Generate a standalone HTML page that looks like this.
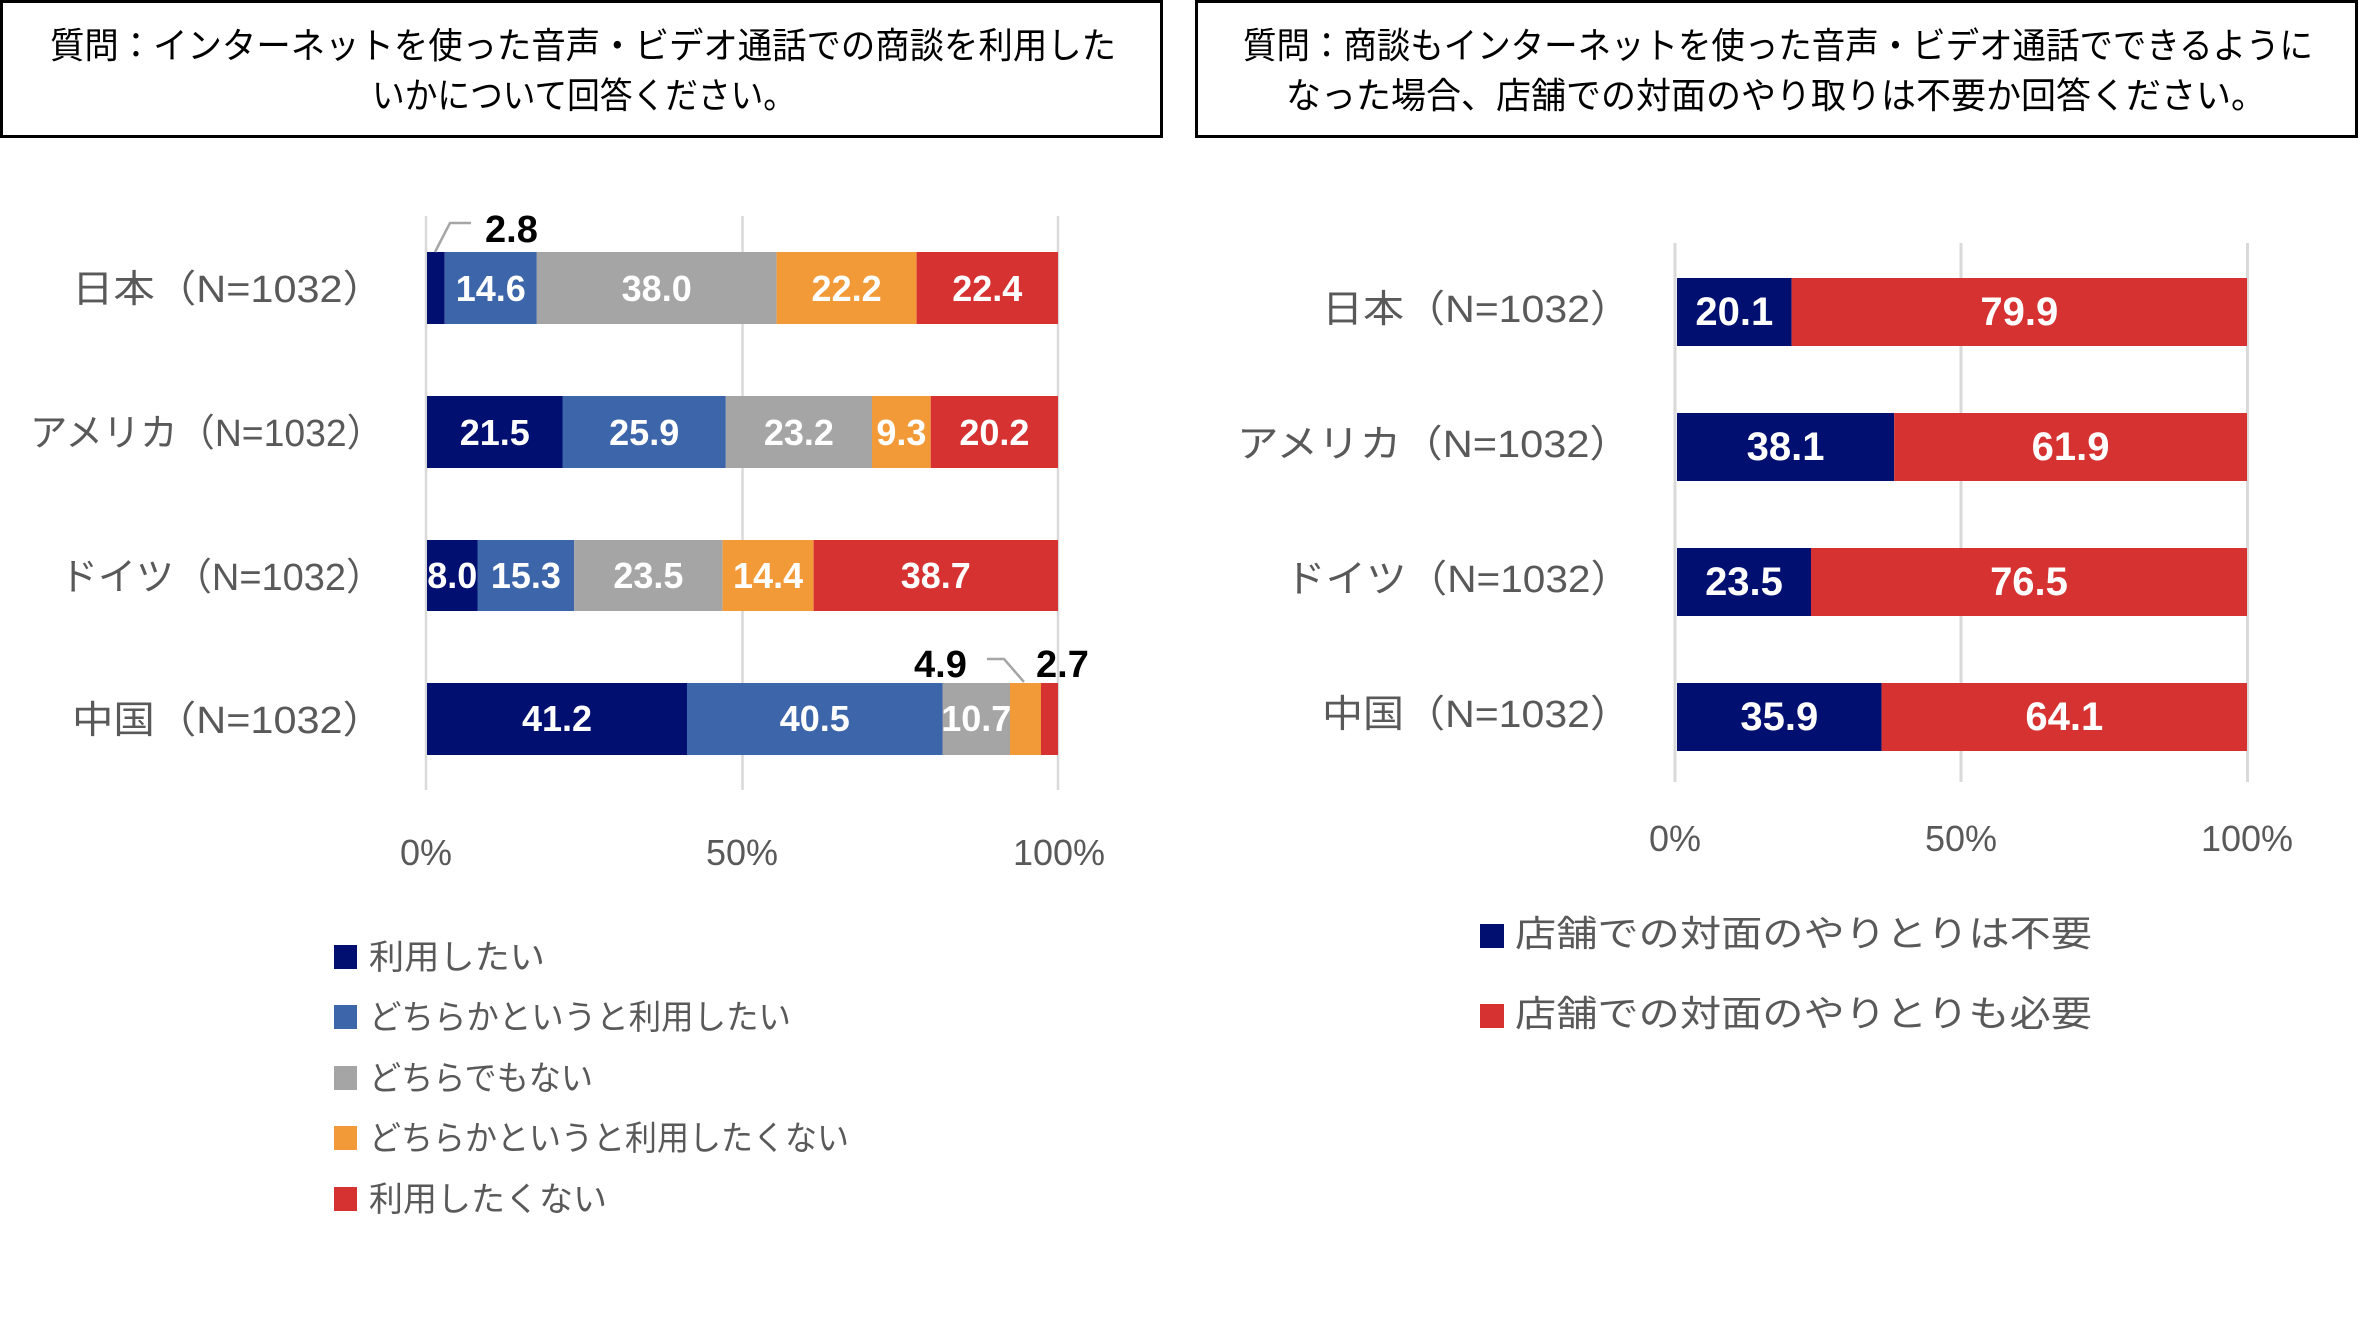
<!DOCTYPE html>
<html><head><meta charset="utf-8">
<style>
html,body{margin:0;padding:0;background:#fff;}
svg{display:block;}
text{font-family:"Liberation Sans","Noto Sans CJK JP",sans-serif;}
.t{font-size:36px;fill:#000;}
.cat{font-size:38px;fill:#595959;}
.catr{font-size:38px;fill:#595959;}
.tick{font-size:36px;fill:#595959;}
.dl{font-size:36px;font-weight:bold;fill:#fff;}
.dr{font-size:40px;font-weight:bold;fill:#fff;}
.ob{font-size:38px;font-weight:bold;fill:#000;}
.lg{font-size:34px;fill:#595959;}
.lgr{font-size:36px;fill:#595959;}
</style></head>
<body>
<svg width="2359" height="1335" viewBox="0 0 2359 1335" xmlns="http://www.w3.org/2000/svg">
<rect width="2359" height="1335" fill="#fff"/>
<!-- Title boxes -->
<rect x="1.5" y="1.5" width="1160" height="135" fill="none" stroke="#000" stroke-width="3"/>
<rect x="1196.5" y="1.5" width="1160" height="135" fill="none" stroke="#000" stroke-width="3"/>
<text class="t" x="50" y="58" textLength="1066" lengthAdjust="spacingAndGlyphs">質問：インターネットを使った音声・ビデオ通話での商談を利用した</text>
<text class="t" x="372" y="108" textLength="424" lengthAdjust="spacingAndGlyphs">いかについて回答ください。</text>
<text class="t" x="1243" y="58" textLength="1070" lengthAdjust="spacingAndGlyphs">質問：商談もインターネットを使った音声・ビデオ通話でできるように</text>
<text class="t" x="1286" y="108" textLength="980" lengthAdjust="spacingAndGlyphs">なった場合、店舗での対面のやり取りは不要か回答ください。</text>

<!-- LEFT CHART gridlines -->
<g stroke="#d9d9d9" stroke-width="2.5">
<line x1="426" y1="216" x2="426" y2="790"/>
<line x1="742.5" y1="216" x2="742.5" y2="790"/>
<line x1="1058" y1="216" x2="1058" y2="790"/>
</g>
<!-- Japan -->
<rect x="427" y="252" width="17.7" height="72" fill="#000F70"/>
<rect x="444.7" y="252" width="92.1" height="72" fill="#3D65AA"/>
<rect x="536.8" y="252" width="239.8" height="72" fill="#A5A5A5"/>
<rect x="776.6" y="252" width="140" height="72" fill="#F39A38"/>
<rect x="916.6" y="252" width="141.4" height="72" fill="#D63232"/>
<!-- America -->
<rect x="427" y="396" width="135.5" height="72" fill="#000F70"/>
<rect x="562.5" y="396" width="163.3" height="72" fill="#3D65AA"/>
<rect x="725.8" y="396" width="146.2" height="72" fill="#A5A5A5"/>
<rect x="872" y="396" width="58.7" height="72" fill="#F39A38"/>
<rect x="930.7" y="396" width="127.3" height="72" fill="#D63232"/>
<!-- Germany -->
<rect x="427" y="540" width="50.5" height="71" fill="#000F70"/>
<rect x="477.5" y="540" width="96.7" height="71" fill="#3D65AA"/>
<rect x="574.2" y="540" width="148.4" height="71" fill="#A5A5A5"/>
<rect x="722.6" y="540" width="91" height="71" fill="#F39A38"/>
<rect x="813.6" y="540" width="244.4" height="71" fill="#D63232"/>
<!-- China -->
<rect x="427" y="683" width="260" height="72" fill="#000F70"/>
<rect x="687" y="683" width="255.5" height="72" fill="#3D65AA"/>
<rect x="942.5" y="683" width="67.5" height="72" fill="#A5A5A5"/>
<rect x="1010" y="683" width="31" height="72" fill="#F39A38"/>
<rect x="1041" y="683" width="17" height="72" fill="#D63232"/>

<!-- left data labels -->
<g class="dl" text-anchor="middle">
<text x="490.8" y="301">14.6</text>
<text x="656.7" y="301">38.0</text>
<text x="846.6" y="301">22.2</text>
<text x="987.3" y="301">22.4</text>
<text x="494.8" y="445">21.5</text>
<text x="644.2" y="445">25.9</text>
<text x="798.9" y="445">23.2</text>
<text x="901.4" y="445">9.3</text>
<text x="994.4" y="445">20.2</text>
<text x="452.3" y="588">8.0</text>
<text x="525.9" y="588">15.3</text>
<text x="648.4" y="588">23.5</text>
<text x="768.1" y="588">14.4</text>
<text x="935.8" y="588">38.7</text>
<text x="557" y="731">41.2</text>
<text x="814.8" y="731">40.5</text>
<text x="976.3" y="731">10.7</text>
</g>
<!-- outside labels + leaders -->
<polyline points="435,252 450,223 471,223" fill="none" stroke="#A6A6A6" stroke-width="2.5"/>
<text class="ob" x="485" y="242">2.8</text>
<polyline points="987,659 1004,659 1024,682" fill="none" stroke="#A6A6A6" stroke-width="2.5"/>
<text class="ob" x="914" y="677">4.9</text>
<text class="ob" x="1036" y="677">2.7</text>

<!-- left category labels -->
<g class="cat">
<text x="72" y="302" textLength="312" lengthAdjust="spacingAndGlyphs">日本（N=1032）</text>
<text x="30" y="446" textLength="354" lengthAdjust="spacingAndGlyphs">アメリカ（N=1032）</text>
<text x="60" y="590" textLength="324" lengthAdjust="spacingAndGlyphs">ドイツ（N=1032）</text>
<text x="72" y="733" textLength="312" lengthAdjust="spacingAndGlyphs">中国（N=1032）</text>
</g>
<!-- left ticks -->
<g class="tick" text-anchor="middle">
<text x="426" y="865">0%</text>
<text x="742" y="865">50%</text>
<text x="1059" y="865">100%</text>
</g>
<!-- left legend -->
<rect x="334" y="945" width="23" height="24" fill="#000F70"/>
<rect x="334" y="1005" width="23" height="24" fill="#3D65AA"/>
<rect x="334" y="1066" width="23" height="24" fill="#A5A5A5"/>
<rect x="334" y="1126" width="23" height="24" fill="#F39A38"/>
<rect x="334" y="1187" width="23" height="24" fill="#D63232"/>
<text class="lg" x="369" y="969" textLength="176" lengthAdjust="spacingAndGlyphs">利用したい</text>
<text class="lg" x="369" y="1029" textLength="422" lengthAdjust="spacingAndGlyphs">どちらかというと利用したい</text>
<text class="lg" x="369" y="1090" textLength="224" lengthAdjust="spacingAndGlyphs">どちらでもない</text>
<text class="lg" x="369" y="1150" textLength="480" lengthAdjust="spacingAndGlyphs">どちらかというと利用したくない</text>
<text class="lg" x="369" y="1211" textLength="238" lengthAdjust="spacingAndGlyphs">利用したくない</text>

<!-- RIGHT CHART gridlines -->
<g stroke="#d9d9d9" stroke-width="3">
<line x1="1675" y1="243" x2="1675" y2="782"/>
<line x1="1961" y1="243" x2="1961" y2="782"/>
<line x1="2247.5" y1="243" x2="2247.5" y2="782"/>
</g>
<rect x="1677" y="278" width="114.6" height="68" fill="#000F70"/>
<rect x="1791.6" y="278" width="455.4" height="68" fill="#D63232"/>
<rect x="1677" y="413" width="217.2" height="68" fill="#000F70"/>
<rect x="1894.2" y="413" width="352.8" height="68" fill="#D63232"/>
<rect x="1677" y="548" width="134" height="68" fill="#000F70"/>
<rect x="1811" y="548" width="436" height="68" fill="#D63232"/>
<rect x="1677" y="683" width="204.6" height="68" fill="#000F70"/>
<rect x="1881.6" y="683" width="365.4" height="68" fill="#D63232"/>
<g class="dr" text-anchor="middle">
<text x="1734.3" y="325">20.1</text>
<text x="2019.3" y="325">79.9</text>
<text x="1785.6" y="460">38.1</text>
<text x="2070.6" y="460">61.9</text>
<text x="1744" y="595">23.5</text>
<text x="2029" y="595">76.5</text>
<text x="1779.3" y="730">35.9</text>
<text x="2064.3" y="730">64.1</text>
</g>
<g class="catr">
<text x="1322" y="322" textLength="309" lengthAdjust="spacingAndGlyphs">日本（N=1032）</text>
<text x="1237" y="457" textLength="394" lengthAdjust="spacingAndGlyphs">アメリカ（N=1032）</text>
<text x="1285" y="592" textLength="346" lengthAdjust="spacingAndGlyphs">ドイツ（N=1032）</text>
<text x="1322" y="727" textLength="309" lengthAdjust="spacingAndGlyphs">中国（N=1032）</text>
</g>
<g class="tick" text-anchor="middle">
<text x="1675" y="851">0%</text>
<text x="1961" y="851">50%</text>
<text x="2247" y="851">100%</text>
</g>
<rect x="1480" y="924" width="24" height="24" fill="#000F70"/>
<rect x="1480" y="1004" width="24" height="24" fill="#D63232"/>
<text class="lgr" x="1515" y="946" textLength="577" lengthAdjust="spacingAndGlyphs">店舗での対面のやりとりは不要</text>
<text class="lgr" x="1515" y="1026" textLength="577" lengthAdjust="spacingAndGlyphs">店舗での対面のやりとりも必要</text>
</svg>
</body></html>
